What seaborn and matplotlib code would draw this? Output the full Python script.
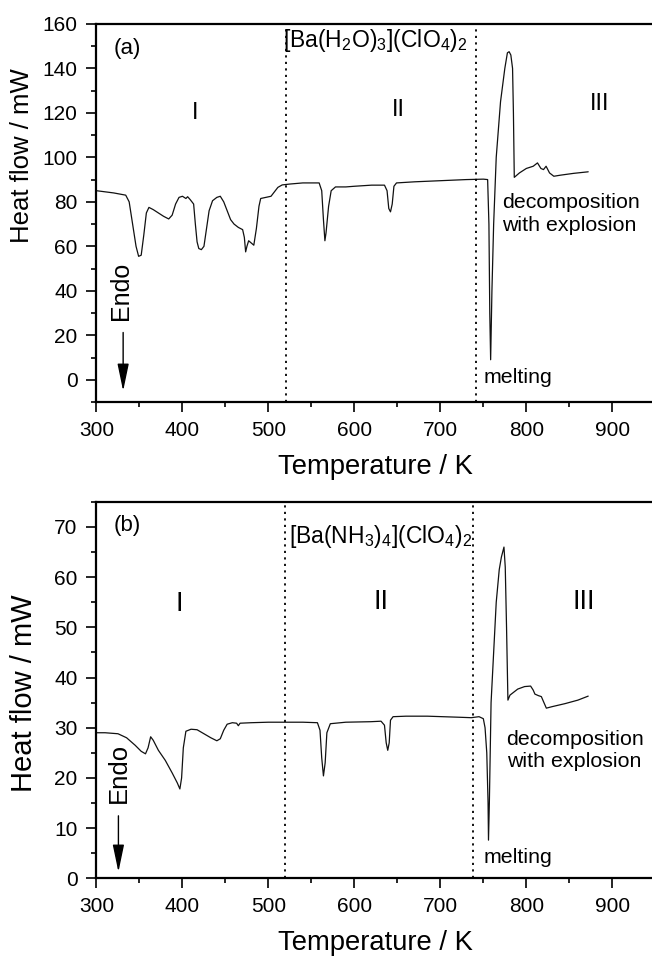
import numpy as np
import pandas as pd
import matplotlib
matplotlib.use("Agg")
import matplotlib.pyplot as plt
import seaborn as sns
from matplotlib.ticker import MultipleLocator

# ---------------- data ----------------
temp_a = [300, 310, 320, 334, 338, 342, 346, 349, 352, 355, 358, 361, 366, 372, 378, 384,
          388, 392, 396, 400, 404, 406, 409, 411, 413, 415, 417, 419, 422, 425, 428, 431,
          435, 440, 444, 448, 452, 456, 460, 465, 470, 472, 473.5, 475, 477, 480, 483, 486,
          489, 491, 497, 503, 507, 511, 516, 525, 540, 559, 562, 564, 565.7, 567, 570, 573,
          578, 590, 600, 620, 635, 638, 640, 642, 644, 646, 649, 670, 700, 730, 750, 755,
          756.5, 757.5, 758.5, 760, 762, 765, 770, 775, 778, 780, 782, 784, 785, 786, 792,
          800, 808, 813, 817, 820, 823, 827, 832, 840, 855, 872]
heat_a = [85.0, 84.5, 84.0, 83.0, 80, 70, 60, 55.5, 56, 65, 75, 77.5, 76.5, 75, 73.5, 72.3,
          74, 79, 82, 82.5, 81.5, 82.3, 81, 80, 79, 70, 62, 59, 58.5, 60, 68, 76,
          80.5, 82, 82.5, 80, 76, 72, 70, 68.5, 67.5, 64, 57.5, 60, 62.5, 61.5, 60.5, 68,
          78, 81.5, 82, 82.5, 84.5, 86.5, 87.6, 88, 88.5, 88.5, 85, 72, 62.5, 66, 78, 85,
          86.7, 86.7, 87, 87.5, 87.5, 85, 77, 75.5, 79, 87, 88.5, 89, 89.5, 90, 90.2, 90,
          70, 30, 9, 40, 70, 100, 125, 140, 147, 147.5, 146, 140, 120, 91, 93,
          95, 96, 97.5, 95, 94.5, 96, 93, 91.5, 92, 92.8, 93.5]

temp_b = [300, 310, 325, 335, 345, 352, 357, 360, 363, 366, 372, 380, 388, 394, 397, 399,
          401, 404, 410, 417, 425, 433, 440, 444, 448, 452, 458, 463, 465, 467, 480, 500,
          514, 540, 557, 560, 562, 564, 566, 568, 572, 590, 619, 631, 635, 637, 638.8, 640.5,
          642, 645, 660, 685, 720, 736, 745, 750, 752, 754, 755.5, 756, 757, 759, 762, 765,
          768.5, 771, 774, 775.5, 777, 778.6, 781, 790, 798, 805, 808, 810, 814, 817.5, 820,
          823.3, 830, 845, 860, 872]
heat_b = [29.0, 29.0, 28.8, 28, 26.5, 25.3, 24.8, 26, 28.2, 27.5, 25.5, 23.5, 21, 19, 17.8, 20,
          26, 29.3, 29.7, 29.6, 28.8, 28, 27.4, 27.8, 29.5, 30.7, 31, 30.9, 30.4, 30.9, 31, 31.1,
          31.1, 31.1, 31, 29.5, 24, 20.4, 23, 29, 30.8, 31.1, 31.2, 31.3, 30.5, 27, 25.5, 27,
          31.5, 32.2, 32.3, 32.3, 32.1, 32.0, 32.2, 31.8, 30, 25, 15, 7.6, 15, 35, 45, 55,
          61.5, 64, 66, 62, 50, 35.5, 36.5, 37.7, 38.2, 38.3, 37.5, 36.7, 36.4, 36.2, 35.2,
          33.9, 34.2, 34.8, 35.5, 36.3]

titles = [r"[Ba(H$_2$O)$_3$](ClO$_4$)$_2$", r"[Ba(NH$_3$)$_4$](ClO$_4$)$_2$"]
panel_tags = ["(a)", "(b)"]
phase_labels = ["I", "II", "III"]
boundaries_a = [520, 741]
boundaries_b = [519, 738]

# ---------------- style ----------------
sns.set_style("white")
plt.rcParams["font.family"] = ["Liberation Sans", "DejaVu Sans"]
plt.rcParams["mathtext.fontset"] = "custom"
plt.rcParams["mathtext.rm"] = "Liberation Sans"
plt.rcParams["mathtext.it"] = "Liberation Sans:italic"
plt.rcParams["mathtext.bf"] = "Liberation Sans:bold"
for k in ["text.color", "axes.labelcolor", "xtick.color", "ytick.color", "axes.edgecolor"]:
    plt.rcParams[k] = "black"

fig = plt.figure(figsize=(6.52, 9.56), dpi=100)
ax_a = fig.add_axes([0.148, 0.5795, 0.857, 0.3955])
ax_b = fig.add_axes([0.148, 0.0813, 0.857, 0.3937])

df_a = pd.DataFrame({"T": temp_a, "H": heat_a})
df_b = pd.DataFrame({"T": temp_b, "H": heat_b})

for ax, df in [(ax_a, df_a), (ax_b, df_b)]:
    sns.lineplot(data=df, x="T", y="H", ax=ax, color="#111111", lw=0.9,
                 estimator=None, sort=False)
    ax.set_xlim(300, 950)
    ax.xaxis.set_major_locator(MultipleLocator(100))
    ax.xaxis.set_minor_locator(MultipleLocator(50))
    ax.tick_params(which="major", direction="out", length=7, width=1.2,
                   labelsize=15, colors="black", pad=6.5,
                   bottom=True, left=True, top=False, right=False)
    ax.tick_params(which="minor", direction="out", length=3.8, width=1.2,
                   bottom=True, left=True, top=False, right=False)
    for s in ax.spines.values():
        s.set_linewidth(1.6)
        s.set_color("black")
    ax.set_xlabel("Temperature / K", fontsize=19.7)
    ax.xaxis.label.set(va="center", ha="center")

# panel a
ax_a.set_ylim(-10, 160)
ax_a.yaxis.set_major_locator(MultipleLocator(20))
ax_a.yaxis.set_minor_locator(MultipleLocator(10))
ax_a.set_ylabel("Heat flow / mW", fontsize=18.5)
ax_a.yaxis.label.set(va="center", ha="center")
ax_a.yaxis.set_label_coords(-0.134, 0.651)
ax_a.xaxis.set_label_coords(0.499, -0.172)
for b in boundaries_a:
    ax_a.axvline(b, color="black", ls=(0, (1.2, 2.4)), lw=1.3)
ax_a.text(336, 149, panel_tags[0], fontsize=16, ha="center", va="center")
ax_a.text(517.5, 152.5, titles[0], fontsize=16.5, ha="left", va="center")
ax_a.text(415, 120, phase_labels[0], fontsize=17, ha="center", va="center")
ax_a.text(651, 121.5, phase_labels[1], fontsize=17, ha="center", va="center")
ax_a.text(885.5, 123.8, phase_labels[2], fontsize=17, ha="center", va="center")
ax_a.text(772, 74.5, "decomposition\nwith explosion", fontsize=15.4, ha="left",
          va="center", linespacing=1.22)
ax_a.text(750.5, 0.8, "melting", fontsize=15.4, ha="left", va="center")
ax_a.text(328.5, 40, "Endo", fontsize=18, rotation=90, ha="center", va="center")
ax_a.annotate("", xy=(331, -6.3), xytext=(331, 22.5),
              arrowprops=dict(arrowstyle="-|>,head_length=1.2,head_width=0.25",
                              color="black", lw=1.0, mutation_scale=14))

# panel b
ax_b.set_ylim(0, 75)
ax_b.yaxis.set_major_locator(MultipleLocator(10))
ax_b.yaxis.set_minor_locator(MultipleLocator(5))
ax_b.set_ylabel("Heat flow / mW", fontsize=21)
ax_b.yaxis.label.set(va="center", ha="center")
ax_b.yaxis.set_label_coords(-0.13, 0.493)
ax_b.xaxis.set_label_coords(0.499, -0.173)
for b in boundaries_b:
    ax_b.axvline(b, color="black", ls=(0, (1.2, 2.4)), lw=1.3)
ax_b.text(336, 70.2, panel_tags[1], fontsize=16, ha="center", va="center")
ax_b.text(524, 68.2, titles[1], fontsize=16.5, ha="left", va="center")
ax_b.text(396.7, 54.6, phase_labels[0], fontsize=19.5, ha="center", va="center")
ax_b.text(631, 55.1, phase_labels[1], fontsize=19.5, ha="center", va="center")
ax_b.text(867, 55.1, phase_labels[2], fontsize=19.5, ha="center", va="center")
ax_b.text(777, 25.5, "decomposition\nwith explosion", fontsize=15.4, ha="left",
          va="center", linespacing=1.22)
ax_b.text(750, 4.2, "melting", fontsize=15.4, ha="left", va="center")
ax_b.text(326.5, 21, "Endo", fontsize=18.5, rotation=90, ha="center", va="center")
ax_b.annotate("", xy=(325.5, 0.7), xytext=(325.5, 13),
              arrowprops=dict(arrowstyle="-|>,head_length=1.2,head_width=0.25",
                              color="black", lw=1.0, mutation_scale=14))

fig.savefig("out.png", dpi=100)
